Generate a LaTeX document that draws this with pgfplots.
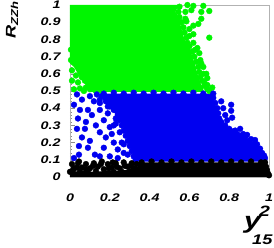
\documentclass[border=0pt]{standalone}
\usepackage{pgfplots}
\pgfplotsset{compat=1.18}
\usepackage{fontspec}
\setmainfont{Liberation Sans}[FakeStretch=1.3]
\definecolor{rgreen}{RGB}{0,245,0}
\definecolor{rblue}{RGB}{0,0,240}
\begin{document}
\begin{tikzpicture}
\begin{axis}[name=ax, scale only axis, width=199pt, height=172pt,
  xmin=0, xmax=1, ymin=0, ymax=1,
  xtick={0,0.2,0.4,0.6,0.8,1}, xticklabels={0,0.2,0.4,0.6,0.8,1},
  ytick={0,0.1,0.2,0.3,0.4,0.5,0.6,0.7,0.8,0.9,1},
  yticklabels={0,0.1,0.2,0.3,0.4,0.5,0.6,0.7,0.8,0.9,1},
  minor x tick num=4, minor y tick num=4,
  tick align=inside, xtick pos=bottom, ytick pos=left,
  axis line style={draw=black!30},
  tick style={black!45},
  major tick length=5pt, minor tick length=2.5pt,
  /pgf/number format/assume math mode=true,
  ticklabel style={font=\fontsize{11}{11}\selectfont\bfseries\itshape},
  xticklabel style={yshift=-13pt},
  yticklabel style={xshift=-6pt},
  mark size=2.9pt,
]
% ---- green: dense core ----
\addplot[fill=rgreen, draw=none] coordinates {
 (0,1) (0.545,1) (0.53,0.96) (0.55,0.92) (0.56,0.86) (0.575,0.80) (0.60,0.75)
 (0.615,0.70) (0.63,0.65) (0.64,0.60) (0.655,0.55) (0.67,0.51) (0.67,0.495)
 (0.10,0.495) (0.07,0.55) (0.04,0.60) (0.02,0.64) (0,0.66) (0,1)};
% ---- green: points ----
\addplot[only marks, mark=*, rgreen, mark options={draw=none, fill=rgreen}] coordinates {
 (0.55,0.99) (0.545,0.96) (0.55,0.93) (0.56,0.90) (0.57,0.87) (0.575,0.84)
 (0.585,0.81) (0.59,0.78) (0.60,0.76) (0.615,0.73) (0.625,0.70) (0.635,0.67)
 (0.645,0.64) (0.65,0.61) (0.655,0.58) (0.665,0.56) (0.675,0.53) (0.69,0.51)
 (0.58,0.96) (0.61,0.97) (0.66,0.96) (0.70,0.965) (0.59,1.0) (0.62,0.995) (0.67,0.995)
 (0.66,0.92) (0.62,0.88) (0.645,0.89) (0.60,0.86) (0.62,0.83) (0.70,0.81)
 (0.62,0.78) (0.64,0.75) (0.65,0.72) (0.655,0.68) (0.67,0.64) (0.67,0.60)
 (0.69,0.575) (0.675,0.55) (0.715,0.52) (0.70,0.50) (0.585,0.905) (0.60,0.82)
 (0.63,0.74) (0.66,0.66) (0.685,0.60) (0.69,0.535) (0.60,0.70) (0.58,0.92)
 (0.005,0.74) (0.02,0.71) (0.005,0.68) (0.03,0.66) (0.01,0.62) (0.045,0.63)
 (0.03,0.59) (0.06,0.58) (0.01,0.56) (0.04,0.55) (0.075,0.56) (0.02,0.51)
 (0.05,0.515) (0.08,0.52) (0.10,0.51) (0.07,0.50) (0.13,0.50) (0.16,0.50)};
% ---- blue: dense core ----
\addplot[fill=rblue, draw=none] coordinates {
 (0.17,0.485) (0.73,0.485) (0.72,0.45) (0.735,0.40) (0.745,0.35) (0.765,0.31)
 (0.80,0.28) (0.84,0.25) (0.885,0.225) (0.915,0.195) (0.945,0.155) (0.96,0.12)
 (0.965,0.09) (0.34,0.09) (0.325,0.12) (0.305,0.16) (0.29,0.21) (0.275,0.27)
 (0.255,0.32) (0.225,0.37) (0.195,0.41) (0.165,0.45) (0.17,0.485)};
% ---- blue: points ----
\addplot[only marks, mark=*, rblue, mark options={draw=none, fill=rblue}] coordinates {
 (0.17,0.485) (0.22,0.49) (0.27,0.485) (0.32,0.49) (0.37,0.485) (0.42,0.49)
 (0.47,0.485) (0.52,0.49) (0.57,0.485) (0.62,0.49) (0.67,0.485) (0.72,0.485)
 (0.72,0.46) (0.73,0.43) (0.74,0.40) (0.745,0.37) (0.75,0.34) (0.76,0.32)
 (0.78,0.30) (0.80,0.28) (0.82,0.265) (0.84,0.25) (0.86,0.24) (0.88,0.23)
 (0.90,0.21) (0.92,0.19) (0.935,0.17) (0.95,0.15) (0.96,0.13) (0.965,0.11)
 (0.81,0.42) (0.81,0.385) (0.815,0.345) (0.855,0.28) (0.89,0.245) (0.93,0.215)
 (0.965,0.14) (0.76,0.44) (0.78,0.36) (0.79,0.33) (0.98,0.11) (0.77,0.40)
 (0.83,0.27) (0.87,0.25) (0.91,0.22) (0.94,0.19) (0.955,0.165) (0.975,0.125)
 (0.16,0.47) (0.18,0.44) (0.20,0.41) (0.22,0.39) (0.24,0.36) (0.25,0.33)
 (0.26,0.30) (0.27,0.27) (0.28,0.24) (0.29,0.21) (0.30,0.18) (0.31,0.15)
 (0.32,0.12) (0.33,0.10) (0.15,0.43) (0.19,0.37) (0.23,0.31) (0.25,0.26)
 (0.27,0.19) (0.29,0.13)
 (0.035,0.48) (0.06,0.45) (0.10,0.47) (0.135,0.48) (0.15,0.45) (0.05,0.39)
 (0.04,0.34) (0.09,0.39) (0.11,0.36) (0.15,0.39) (0.17,0.33) (0.035,0.28)
 (0.075,0.28) (0.06,0.23) (0.10,0.21) (0.15,0.26) (0.18,0.23) (0.045,0.18)
 (0.125,0.13) (0.15,0.12) (0.045,0.13) (0.22,0.20) (0.24,0.16) (0.20,0.29)
 (0.23,0.34) (0.19,0.41) (0.02,0.42) (0.08,0.32) (0.13,0.30) (0.21,0.25)
 (0.09,0.17) (0.17,0.17) (0.12,0.44) (0.02,0.11) (0.20,0.12) (0.24,0.11)
 (0.27,0.14) (0.26,0.20) (0.22,0.30)};
% ---- black: dense core ----
\addplot[fill=black, draw=none] coordinates {
 (0.35,0.085) (0.98,0.085) (0.99,0.05) (1.0,0.0) (0,0) (0,0.03) (0.06,0.035)
 (0.12,0.03) (0.18,0.035) (0.24,0.035) (0.30,0.045) (0.34,0.06) (0.35,0.085)};
% ---- black: points ----
\addplot[only marks, mark=*, black, mark options={draw=none, fill=black}] coordinates {
 (0.36,0.085) (0.41,0.09) (0.46,0.085) (0.51,0.09) (0.56,0.085) (0.61,0.09)
 (0.66,0.085) (0.71,0.09) (0.76,0.085) (0.81,0.09) (0.86,0.085) (0.91,0.09)
 (0.96,0.085) (0.98,0.085) (0.985,0.06) (0.99,0.04) (0.995,0.02) (1.0,0.01)
 (0.01,0.075) (0.04,0.08) (0.08,0.075) (0.12,0.08) (0.19,0.075) (0.23,0.08)
 (0.27,0.085) (0.31,0.08) (0.02,0.05) (0.06,0.055) (0.10,0.05) (0.14,0.06)
 (0.17,0.045) (0.21,0.055) (0.25,0.05) (0.29,0.06) (0.32,0.05) (0.0,0.03)
 (0.05,0.03) (0.09,0.025) (0.13,0.035) (0.18,0.02) (0.22,0.03) (0.26,0.03)
 (0.30,0.03) (0.33,0.035) (0.035,0.055) (0.08,0.045) (0.115,0.065)
 (0.155,0.075) (0.195,0.05) (0.235,0.06) (0.275,0.065) (0.305,0.065)
 (0.335,0.075) (0.015,0.04) (0.045,0.09) (0.16,0.09) (0.215,0.085)};
\end{axis}
\node[rotate=90, anchor=center, inner sep=0pt] at ([shift={(-58pt,-15pt)}]ax.north west)
 {\fontsize{14}{14}\selectfont\bfseries\itshape R\raisebox{-0.35ex}{\fontsize{10}{10}\selectfont ZZh}};
\node[anchor=base west, inner sep=0pt] at ([shift={(174pt,-52pt)}]ax.south west)
 {\fontsize{23}{23}\selectfont\bfseries\itshape y};
\node[anchor=base west, inner sep=0pt] at ([shift={(189pt,-40pt)}]ax.south west)
 {\fontsize{15}{15}\selectfont\bfseries\itshape 2};
\node[anchor=base west, inner sep=0pt] at ([shift={(182pt,-68pt)}]ax.south west)
 {\fontsize{14}{14}\selectfont\bfseries\itshape 15};
\pgfresetboundingbox
\path ([shift={(-70pt,-71pt)}]ax.south west) rectangle ([shift={(5pt,5pt)}]ax.north east);
\end{tikzpicture}
\end{document}
